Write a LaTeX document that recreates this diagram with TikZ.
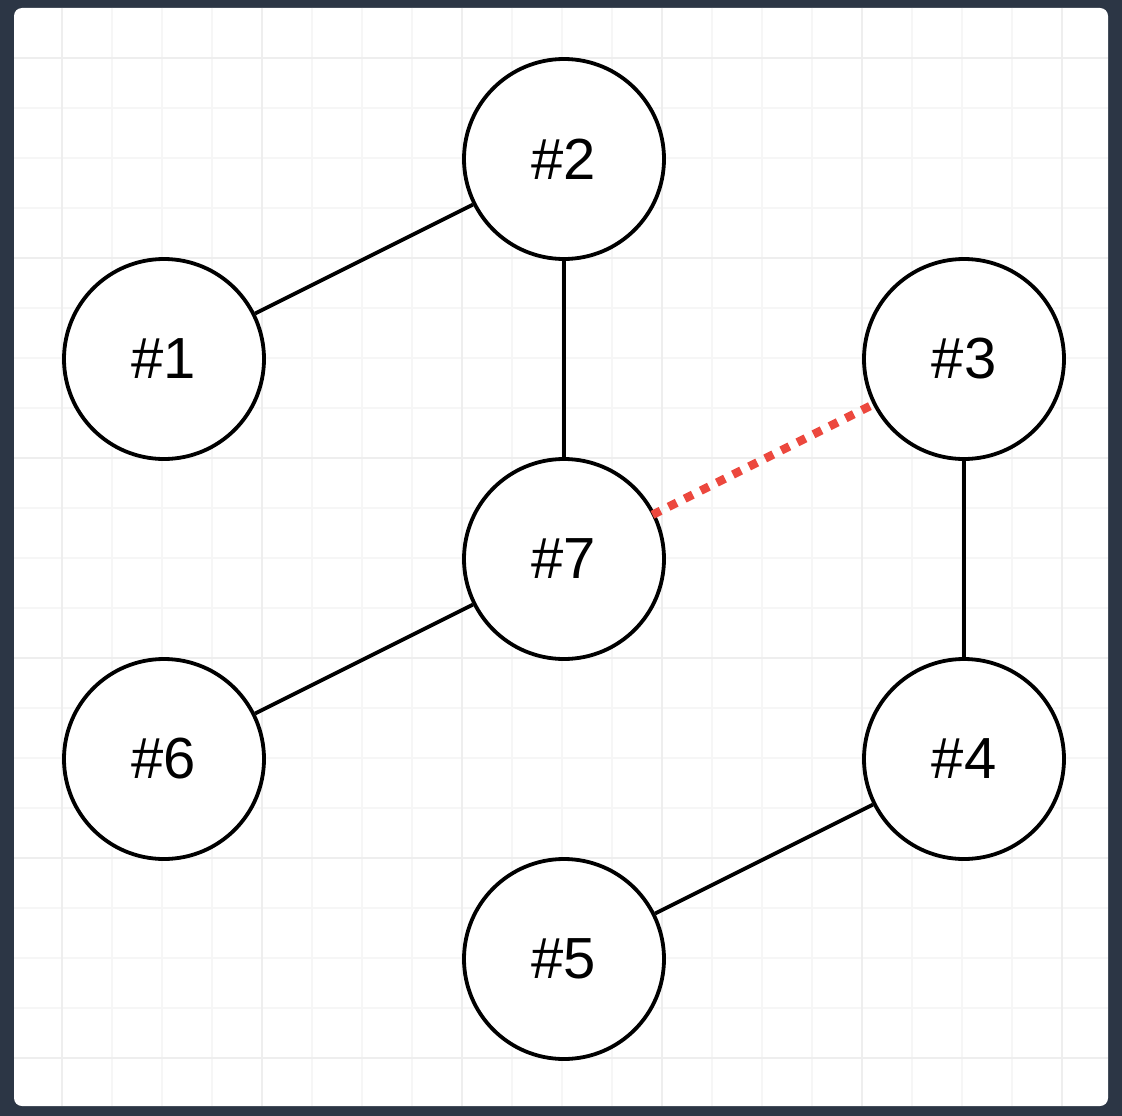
\documentclass[tikz,border=0pt]{standalone}
\usepackage{fontspec}
\setmainfont{Liberation Sans}
\definecolor{frame}{RGB}{44,54,69}
\definecolor{gridminor}{RGB}{246,246,246}
\definecolor{gridmajor}{RGB}{238,238,238}
\definecolor{linkred}{RGB}{236,72,62}
\begin{document}
\begin{tikzpicture}[x=1pt,y=-1pt,
  vertex/.style={circle,draw=black,line width=3.8pt,fill=white,minimum size=200pt,inner sep=0pt,font=\fontsize{58}{58}\selectfont},
  edge/.style={draw=black,line width=3.8pt},
  weak/.style={draw=linkred,line width=8.5pt,dash pattern=on 9pt off 9pt}]
  % dark frame and white canvas
  \fill[frame] (0,0) rectangle (1122,1116);
  \useasboundingbox (0,0) rectangle (1122,1116);
  \fill[white,rounded corners=8pt] (14,8) rectangle (1108,1106);
  % background grid
  \begin{scope}
    \clip (14,8) rectangle (1108,1106);
    \foreach \x in {112,162,212,312,362,412,512,562,612,712,762,812,912,962,1012}
      \draw[gridminor,line width=1.2pt] (\x,8) -- (\x,1106);
    \foreach \y in {108,158,208,308,358,408,508,558,608,708,758,808,908,958,1008}
      \draw[gridminor,line width=1.2pt] (14,\y) -- (1108,\y);
    \foreach \x in {62,262,462,662,862,1062}
      \draw[gridmajor,line width=1.2pt] (\x,8) -- (\x,1106);
    \foreach \y in {58,258,458,658,858,1058}
      \draw[gridmajor,line width=1.2pt] (14,\y) -- (1108,\y);
  \end{scope}
  % vertices
  \node[vertex] (n2) at (564,159) {\#2};
  \node[vertex] (n1) at (164,359) {\#1};
  \node[vertex] (n3) at (964,359) {\#3};
  \node[vertex] (n7) at (564,559) {\#7};
  \node[vertex] (n6) at (164,759) {\#6};
  \node[vertex] (n4) at (964,759) {\#4};
  \node[vertex] (n5) at (564,959) {\#5};
  % connectors
  \draw[edge] (n1) -- (n2);
  \draw[edge] (n2) -- (n7);
  \draw[edge] (n7) -- (n6);
  \draw[edge] (n3) -- (n4);
  \draw[edge] (n4) -- (n5);
  \draw[weak,shorten <=-3pt,shorten >=-3pt] (n7) -- (n3);
\end{tikzpicture}
\end{document}
